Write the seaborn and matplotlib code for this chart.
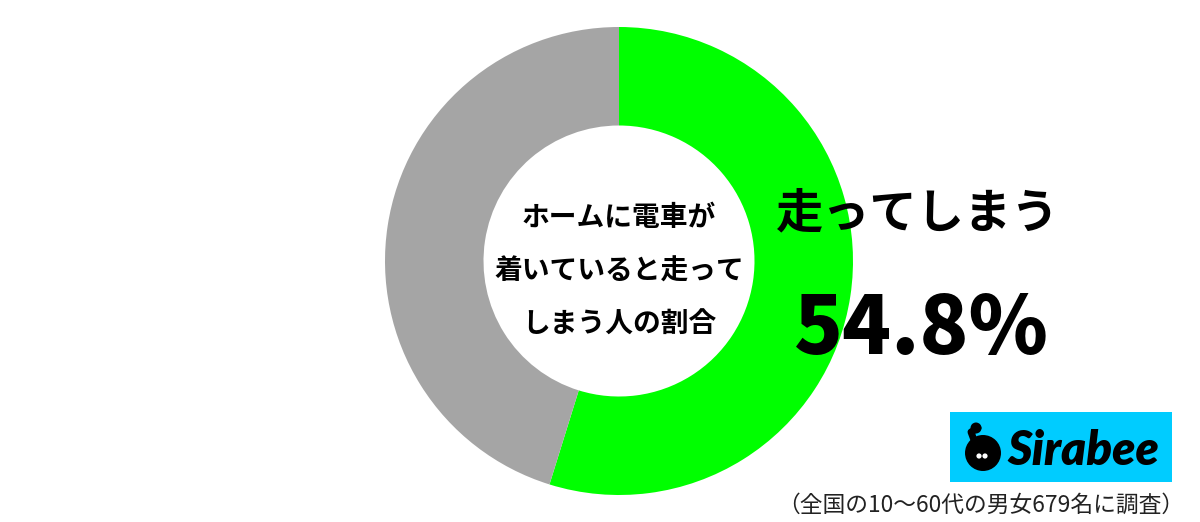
import matplotlib
matplotlib.use("Agg")
import matplotlib.pyplot as plt
from matplotlib.patches import Circle, Rectangle
import seaborn as sns

# data
labels = ["走ってしまう", "走らない"]
shares = [54.8, 45.2]
colors = ["#00FF00", "#A5A5A5"]
center_title = ["ホームに電車が", "着いていると走って", "しまう人の割合"]
answer_label = "走ってしまう"
answer_value = "54.8%"
note = "（全国の10〜60代の男女679名に調査）"

sns.set_theme(style="white")
plt.rcParams['font.family'] = ['Noto Sans CJK JP', 'DejaVu Sans']

W, H = 1200, 522
fig = plt.figure(figsize=(12, 5.22), dpi=100)
ax = fig.add_axes([0, 0, 1, 1])

def py(y):
    # pixel row (from top) -> data y
    return H - y

cx, cy, r_out, r_in = 619, py(261), 234, 135.5
ax.pie(shares, colors=colors, startangle=90, counterclock=False,
       center=(cx, cy), radius=r_out,
       wedgeprops=dict(width=r_out - r_in, linewidth=0))
ax.set_xlim(0, W)
ax.set_ylim(0, H)
ax.set_aspect('equal')
ax.axis('off')

for i, line in enumerate(center_title):
    ax.text(cx, py(218 + 53.5 * i), line, ha='center', va='center',
            fontsize=20, fontweight='bold', color='black')

ax.text(918, py(213), answer_label, ha='center', va='center',
        fontsize=34, fontweight='bold', color='black')
ax.text(921, py(330), answer_value, ha='center', va='center',
        fontsize=58, fontweight='black', color='black')

# Sirabee logo
ax.add_patch(Rectangle((950, py(482)), 222, 70, color='#00CCFF', lw=0))
ax.add_patch(Circle((983, py(453)), 18, color='black', lw=0))
ax.plot([974, 971, 978], [py(440), py(432), py(428)], color='black', lw=5,
        solid_capstyle='round')
ax.add_patch(Circle((976, py(428)), 5.5, color='black', lw=0))
ax.add_patch(Circle((979, py(456)), 2.6, color='white', lw=0))
ax.add_patch(Circle((985, py(456)), 2.6, color='white', lw=0))
ax.text(1083, py(451), "Sirabee", ha='center', va='center', fontsize=34,
        fontweight='heavy', fontstyle='italic', family=['Lato', 'DejaVu Sans'],
        color='black')

ax.text(981, py(505), note, ha='center', va='center', fontsize=16.4,
        color='#222222')

fig.savefig("out.png", dpi=100, facecolor='white')
